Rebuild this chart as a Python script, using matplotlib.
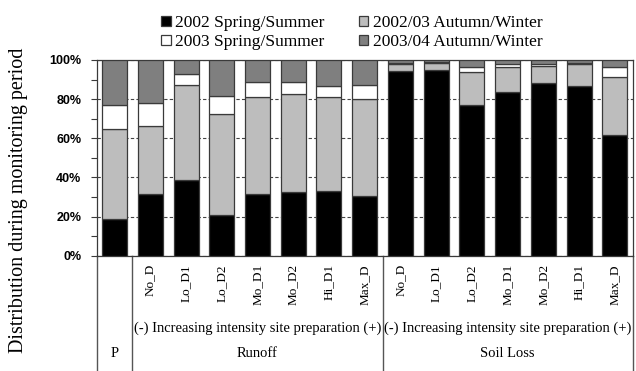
import matplotlib
matplotlib.use("Agg")
import matplotlib.pyplot as plt
from matplotlib.patches import Patch
from matplotlib.lines import Line2D
import numpy as np

# Treatments (P = precipitation, then runoff and soil loss per treatment)
categories = ["P",
              "No_D", "Lo_D1", "Lo_D2", "Mo_D1", "Mo_D2", "Hi_D1", "Max_D",
              "No_D", "Lo_D1", "Lo_D2", "Mo_D1", "Mo_D2", "Hi_D1", "Max_D"]
tick_labels = [""] + categories[1:]

# Share (%) of each monitoring period
spring_2002 = [19.0, 31.6, 38.6, 20.8, 31.3, 32.3, 33.0, 30.6,
               94.4, 94.9, 77.2, 83.8, 88.2, 86.5, 61.9]
autumn_2002_03 = [45.5, 34.5, 48.5, 51.6, 49.8, 50.4, 47.9, 49.4,
                  3.6, 3.4, 16.5, 12.5, 8.8, 11.5, 29.3]
spring_2003 = [12.3, 11.9, 5.5, 9.0, 7.6, 5.8, 5.9, 7.3,
               0.6, 0.7, 2.9, 1.5, 1.0, 0.5, 5.4]
autumn_2003_04 = [23.2, 22.0, 7.4, 18.6, 11.3, 11.5, 13.2, 12.7,
                  1.4, 1.0, 3.4, 2.2, 2.0, 1.5, 3.4]

series = [
    ("2002 Spring/Summer", spring_2002, "#000000"),
    ("2002/03 Autumn/Winter", autumn_2002_03, "#bdbdbd"),
    ("2003 Spring/Summer", spring_2003, "#ffffff"),
    ("2003/04 Autumn/Winter", autumn_2003_04, "#7f7f7f"),
]

group_names = ["P", "Runoff", "Soil Loss"]
group_sub = "(-) Increasing intensity site preparation (+)"

serif = ["Liberation Serif", "DejaVu Serif"]
edge = "#3a3a3a"

fig = plt.figure(figsize=(6.36, 3.71), dpi=100)
ax = fig.add_axes([0.152, 0.3108, 0.8428, 0.5275])

x = np.arange(len(categories))
bottom = np.zeros(len(categories))
handles = {}
for name, vals, color in series:
    vals = np.array(vals)
    ax.bar(x, vals, width=0.7, bottom=bottom, color=color,
           edgecolor=edge, linewidth=0.9, zorder=3)
    bottom += vals
    handles[name] = Patch(facecolor=color, edgecolor=edge, linewidth=0.9)

ax.set_xlim(-0.5, len(categories) - 0.5)
ax.set_ylim(0, 100)
ax.set_yticks([0, 20, 40, 60, 80, 100])
ax.set_yticklabels([f"{v}%" for v in [0, 20, 40, 60, 80, 100]],
                   fontfamily=["Liberation Sans", "DejaVu Sans"],
                   fontweight="bold", fontsize=9)
ax.set_yticks(np.arange(10, 100, 20), minor=True)
ax.tick_params(axis="y", which="both", direction="out", length=4,
               color=edge, width=0.8, pad=7)
ax.yaxis.grid(True, which="major", color="#444444", linestyle=(0, (3, 2)),
              linewidth=0.8, zorder=0)
ax.set_axisbelow(True)

ax.set_xticks(x)
ax.set_xticklabels(tick_labels, rotation=90, fontfamily=serif, fontsize=9.5)
ax.tick_params(axis="x", length=0, pad=6)

for sp in ax.spines.values():
    sp.set_color(edge)
    sp.set_linewidth(0.9)

ax.set_ylabel("Distribution during monitoring period", fontfamily=serif,
              fontsize=14.5)
ax.yaxis.set_label_coords(-0.128, 0.285)

# Separators under the axis between the groups
tr = ax.get_xaxis_transform()
for xv in [-0.5, 0.5, 7.5, len(categories) - 0.5]:
    ax.add_line(Line2D([xv, xv], [0, -0.6], transform=tr, color="#555555",
                       linewidth=1.0, clip_on=False))

for cx, name in zip([0, 4, 11], group_names):
    ax.text(cx, -0.5, name, transform=tr, ha="center", va="center",
            fontfamily=serif, fontsize=10.5)
for cx in [4, 11]:
    ax.text(cx, -0.37, group_sub, transform=tr, ha="center", va="center",
            fontfamily=serif, fontsize=10.5)

order = ["2002 Spring/Summer", "2003 Spring/Summer",
         "2002/03 Autumn/Winter", "2003/04 Autumn/Winter"]
fig.legend([handles[n] for n in order], order, ncol=2, loc="center",
           bbox_to_anchor=(0.553, 0.912), frameon=False,
           prop={"family": serif, "size": 12.5},
           handlelength=0.55, handleheight=0.55, handletextpad=0.25,
           columnspacing=2.0, labelspacing=0.15, borderpad=0)

fig.savefig("out.png", dpi=100)
